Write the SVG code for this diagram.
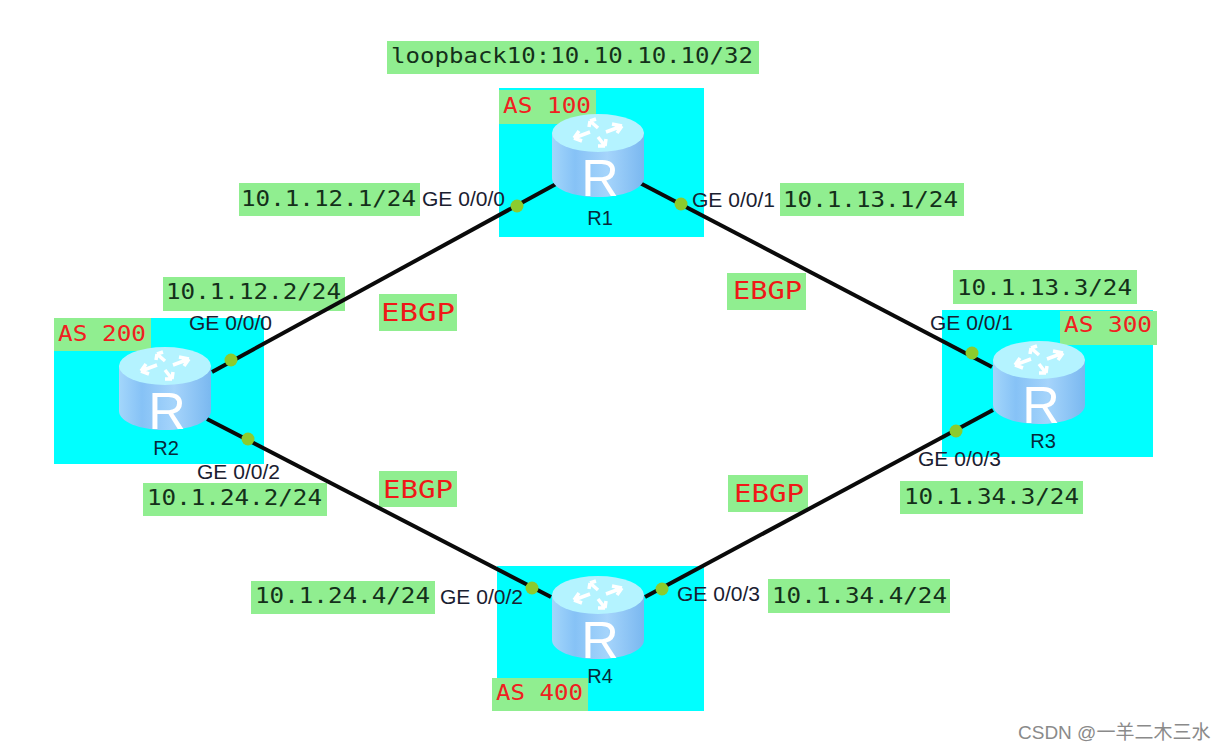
<svg xmlns="http://www.w3.org/2000/svg" width="1226" height="752" viewBox="0 0 1226 752">
<style>
.as{fill:#00ffff}
.g{fill:#90ee90}
.m{font-family:"DejaVu Sans Mono","Liberation Mono",monospace;font-size:21px;fill:#14301a}
.r{font-family:"DejaVu Sans Mono","Liberation Mono",monospace;font-size:21px;fill:#f02020}
.e{font-family:"DejaVu Sans Mono","Liberation Mono",monospace;font-size:24px;fill:#f01818}
.p{font-family:"Liberation Sans",Arial,sans-serif;font-size:19.5px;fill:#1a2030}
.n{font-family:"Liberation Sans",Arial,sans-serif;font-size:20px;fill:#062a3a;text-anchor:middle}
.l{stroke:#0a0a0a;stroke-width:4;fill:none}
.d{fill:#8ccb2e}
.ic{font-family:"Liberation Sans",Arial,sans-serif;font-size:52px;fill:#fff;text-anchor:middle}
</style>
<defs>
<linearGradient id="body" x1="0" x2="1" y1="0" y2="0">
<stop offset="0" stop-color="#a3d6fb"/><stop offset=".25" stop-color="#86c2f6"/><stop offset=".6" stop-color="#a5d4fb"/><stop offset="1" stop-color="#7ab8f0"/>
</linearGradient>
<g id="router">
<path d="M-46 0V45C-46 56 -25 64 0 64S46 56 46 45V0Z" fill="url(#body)"/>
<ellipse cx="0" cy="0" rx="46" ry="19" fill="#b4f3ff"/>
<path d="M-24 5L-8 -1M-24 5L-19 -2M-24 5L-16 8M24 -7L8 -1M24 -7L14 -9M24 -7L19 0M-8 -12L0 -5M-8 -12L-9 -6M-8 -12L-2 -14M7 13L0 4M7 13L8 6M7 13L0 13" stroke="#fff" stroke-width="3.5" fill="none"/>
<text class="ic" x="2" y="63">R</text>
</g>
</defs>
<rect width="1226" height="752" fill="#fff"/>
<g id="as-areas">
<rect class="as" x="499" y="88" width="205" height="149"/>
<rect class="as" x="54" y="318" width="210" height="146"/>
<rect class="as" x="942" y="310" width="211" height="147"/>
<rect class="as" x="497" y="566" width="207" height="145"/>
</g>
<g id="labels">
<rect class="g" x="387" y="41" width="372" height="33"/><text class="m" x="391" y="63" textLength="362" lengthAdjust="spacingAndGlyphs">loopback10:10.10.10.10/32</text>
<rect class="g" x="499" y="90" width="97" height="34"/><text class="r" x="503" y="113" textLength="88" lengthAdjust="spacingAndGlyphs">AS 100</text>
<rect class="g" x="54" y="318" width="97" height="33"/><text class="r" x="58" y="341" textLength="88" lengthAdjust="spacingAndGlyphs">AS 200</text>
<rect class="g" x="1060" y="311" width="97" height="34"/><text class="r" x="1064" y="332" textLength="88" lengthAdjust="spacingAndGlyphs">AS 300</text>
<rect class="g" x="492" y="678" width="96" height="33"/><text class="r" x="496" y="700" textLength="87" lengthAdjust="spacingAndGlyphs">AS 400</text>
<rect class="g" x="239" y="183" width="181" height="33"/><text class="m" x="241" y="206" textLength="175" lengthAdjust="spacingAndGlyphs">10.1.12.1/24</text>
<rect class="g" x="780" y="183" width="184" height="33"/><text class="m" x="783" y="207" textLength="175" lengthAdjust="spacingAndGlyphs">10.1.13.1/24</text>
<rect class="g" x="163" y="277" width="182" height="34"/><text class="m" x="166" y="299" textLength="175" lengthAdjust="spacingAndGlyphs">10.1.12.2/24</text>
<rect class="g" x="953" y="270" width="184" height="34"/><text class="m" x="957" y="295" textLength="175" lengthAdjust="spacingAndGlyphs">10.1.13.3/24</text>
<rect class="g" x="143" y="483" width="184" height="33"/><text class="m" x="147" y="505" textLength="175" lengthAdjust="spacingAndGlyphs">10.1.24.2/24</text>
<rect class="g" x="900" y="481" width="183" height="33"/><text class="m" x="904" y="504" textLength="175" lengthAdjust="spacingAndGlyphs">10.1.34.3/24</text>
<rect class="g" x="251" y="581" width="184" height="33"/><text class="m" x="255" y="603" textLength="175" lengthAdjust="spacingAndGlyphs">10.1.24.4/24</text>
<rect class="g" x="768" y="579" width="182" height="34"/><text class="m" x="772" y="603" textLength="175" lengthAdjust="spacingAndGlyphs">10.1.34.4/24</text>
<rect class="g" x="379" y="294" width="78" height="37"/><text class="e" x="381" y="321" textLength="74" lengthAdjust="spacingAndGlyphs">EBGP</text>
<rect class="g" x="727" y="273" width="79" height="37"/><text class="e" x="733" y="299" textLength="69" lengthAdjust="spacingAndGlyphs">EBGP</text>
<rect class="g" x="379" y="471" width="78" height="36"/><text class="e" x="383" y="498" textLength="70" lengthAdjust="spacingAndGlyphs">EBGP</text>
<rect class="g" x="728" y="475" width="80" height="37"/><text class="e" x="734" y="502" textLength="70" lengthAdjust="spacingAndGlyphs">EBGP</text>
</g>
<g id="connectors">
<path class="l" d="M556 184L212 372"/>
<path class="l" d="M640 183L992 367"/>
<path class="l" d="M207 419L551 597"/>
<path class="l" d="M993 410L645 597"/>
</g>
<g id="R1"><use href="#router" x="598" y="133"/><text class="n" x="600" y="225">R1</text></g>
<g id="R2"><use href="#router" x="165" y="366"/><text class="n" x="166" y="455">R2</text></g>
<g id="R3"><use href="#router" x="1039" y="360"/><text class="n" x="1043" y="448">R3</text></g>
<g id="R4"><use href="#router" x="598" y="595"/><text class="n" x="600" y="683">R4</text></g>
<g id="ports">
<circle class="d" cx="517" cy="206" r="6.5"/><circle class="d" cx="681" cy="204" r="6.5"/>
<circle class="d" cx="231" cy="360" r="6.5"/><circle class="d" cx="248" cy="439" r="6.5"/>
<circle class="d" cx="972" cy="353" r="6.5"/><circle class="d" cx="956" cy="431" r="6.5"/>
<circle class="d" cx="532" cy="588" r="6.5"/><circle class="d" cx="662" cy="589" r="6.5"/>
</g>
<g id="port-labels">
<text class="p" x="422" y="206" textLength="83" lengthAdjust="spacingAndGlyphs">GE 0/0/0</text>
<text class="p" x="692" y="207" textLength="83" lengthAdjust="spacingAndGlyphs">GE 0/0/1</text>
<text class="p" x="189" y="330" textLength="83" lengthAdjust="spacingAndGlyphs">GE 0/0/0</text>
<text class="p" x="197" y="479" textLength="83" lengthAdjust="spacingAndGlyphs">GE 0/0/2</text>
<text class="p" x="930" y="330" textLength="83" lengthAdjust="spacingAndGlyphs">GE 0/0/1</text>
<text class="p" x="918" y="466" textLength="83" lengthAdjust="spacingAndGlyphs">GE 0/0/3</text>
<text class="p" x="440" y="604" textLength="83" lengthAdjust="spacingAndGlyphs">GE 0/0/2</text>
<text class="p" x="677" y="601" textLength="83" lengthAdjust="spacingAndGlyphs">GE 0/0/3</text>
</g>
<text x="1018" y="739" font-family="Liberation Sans,'Noto Sans CJK SC',sans-serif" font-size="19" fill="#8a8a8a">CSDN @一羊二木三水</text>
</svg>
